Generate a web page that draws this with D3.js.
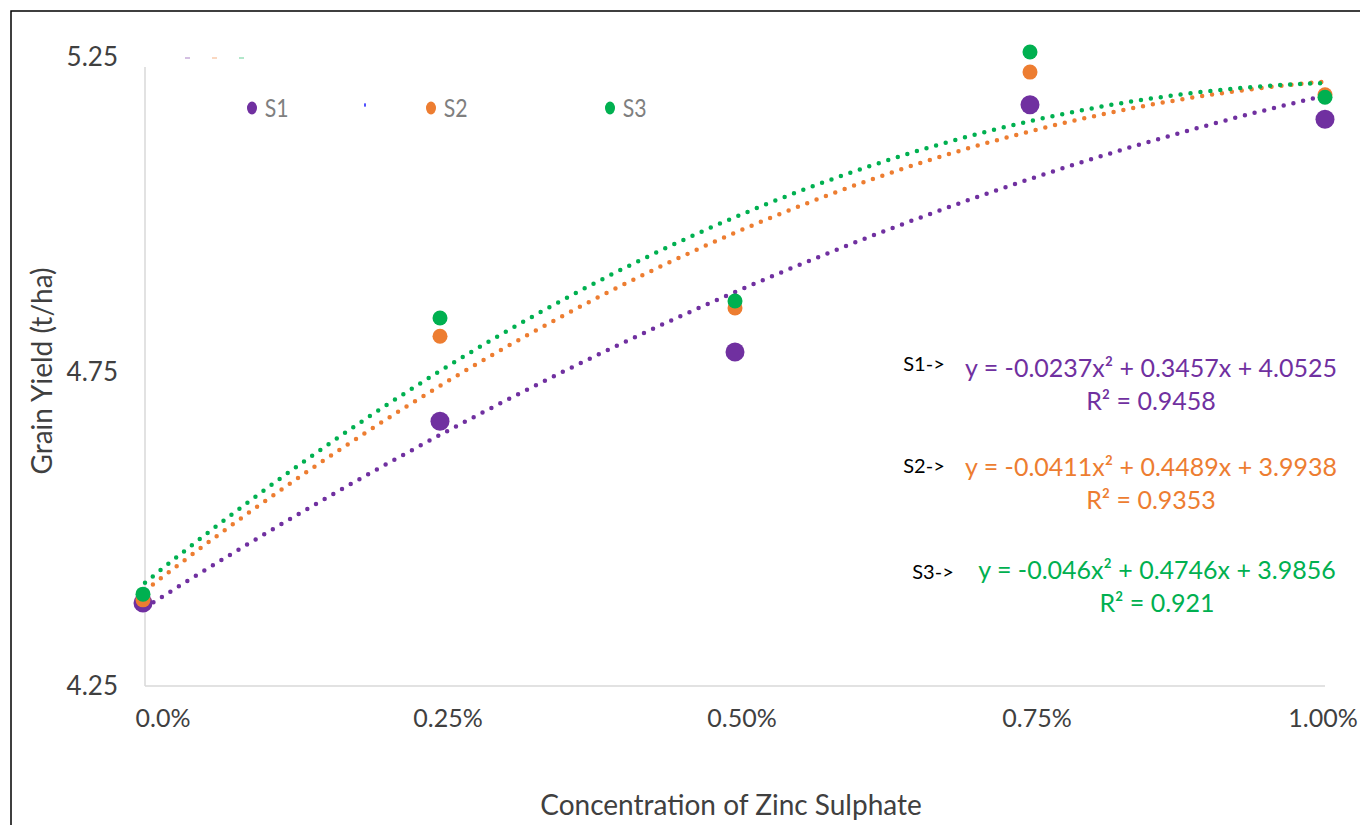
<!DOCTYPE html>
<html>
<head>
<meta charset="utf-8">
<script src="https://cdn.jsdelivr.net/npm/d3@7"></script>
<style>
  body { margin: 0; background: #fff; }
  text { font-family: Lato, "Open Sans", sans-serif; }
</style>
</head>
<body>
<div id="chart-wrapper"></div>
<script>
////////////////////////// Data //////////////////////////
const categories = ["0.0%", "0.25%", "0.50%", "0.75%", "1.00%"]
const seriesNames = ["S1", "S2", "S3"]
const s1Values = [4.382, 4.671, 4.781, 5.174, 5.151]
const s2Values = [4.387, 4.806, 4.851, 5.226, 5.190]
const s3Values = [4.396, 4.835, 4.862, 5.258, 5.186]
// trendline coefficients [a, b, c] for y = a x^2 + b x + c, x = 1..5
const s1Fit = [-0.0237, 0.3457, 4.0525]
const s2Fit = [-0.0411, 0.4489, 3.9938]
const s3Fit = [-0.046, 0.4746, 3.9856]
const equationLabels = ["y = -0.0237x² + 0.3457x + 4.0525", "y = -0.0411x² + 0.4489x + 3.9938", "y = -0.046x² + 0.4746x + 3.9856"]
const r2Labels = ["R² = 0.9458", "R² = 0.9353", "R² = 0.921"]
const yTicks = [4.25, 4.75, 5.25]

////////////////////////// Constants //////////////////////////
const width = 1360
const height = 825
const colors = ["#7030A0", "#ED7D31", "#00B050"]
const axisGrey = "#d9d9d9"
const textGrey = "#404040"

const series = [
  {name: seriesNames[0], values: s1Values, fit: s1Fit, color: colors[0], r: 9.5},
  {name: seriesNames[1], values: s2Values, fit: s2Fit, color: colors[1], r: 7.5},
  {name: seriesNames[2], values: s3Values, fit: s3Fit, color: colors[2], r: 7.5},
]

const svg = d3.select("#chart-wrapper")
  .append("svg")
    .attr("width", width)
    .attr("height", height)

// outer frame
svg.append("rect")
  .attr("x", 11).attr("y", 11)
  .attr("width", width + 20).attr("height", height + 20)
  .attr("fill", "none")
  .attr("stroke", "#000")
  .attr("stroke-width", 1.5)

/// Scales ///
const xScale = d3.scaleLinear().domain([1, 5]).range([145, 1325])
const yScale = d3.scaleLinear().domain([4.25, 5.25]).range([686, 57])

/// Axes ///
const g = svg.append("g")

g.append("line")
  .attr("x1", xScale(1)).attr("x2", xScale(1))
  .attr("y1", yScale(5.25) + 10).attr("y2", yScale(4.25))
  .attr("stroke", axisGrey).attr("stroke-width", 1.5)
g.append("line")
  .attr("x1", xScale(1)).attr("x2", xScale(5))
  .attr("y1", yScale(4.25)).attr("y2", yScale(4.25))
  .attr("stroke", axisGrey).attr("stroke-width", 1.5)

g.selectAll(".y-tick")
  .data(yTicks)
  .join("text")
    .attr("class", "y-tick")
    .attr("x", 118)
    .attr("y", d => yScale(d))
    .attr("dy", "0.35em")
    .attr("text-anchor", "end")
    .attr("font-size", 26)
    .attr("fill", textGrey)
    .text(d => d3.format(".2f")(d))

const tickNudge = [18, 8, 7, 7, -2]
g.selectAll(".x-tick")
  .data(categories)
  .join("text")
    .attr("class", "x-tick")
    .attr("x", (d, i) => xScale(i + 1) + tickNudge[i])
    .attr("y", 718)
    .attr("dy", "0.35em")
    .attr("text-anchor", "middle")
    .attr("font-size", 25)
    .attr("fill", textGrey)
    .text(d => d)

g.append("text")
  .attr("transform", `translate(42, 371) rotate(-90)`)
  .attr("dy", "0.35em")
  .attr("text-anchor", "middle")
  .attr("font-size", 28)
  .attr("fill", textGrey)
  .text("Grain Yield (t/ha)")

g.append("text")
  .attr("x", 731).attr("y", 805)
  .attr("dy", "0.35em")
  .attr("text-anchor", "middle")
  .attr("font-size", 28)
  .attr("fill", textGrey)
  .text("Concentration of Zinc Sulphate")

/// Trendlines ///
const line = d3.line()
  .x(d => xScale(d[0]))
  .y(d => yScale(d[1]))
  .curve(d3.curveMonotoneX)

g.selectAll(".trend")
  .data(series)
  .join("path")
    .attr("class", "trend")
    .attr("fill", "none")
    .attr("stroke", d => d.color)
    .attr("stroke-width", 4.5)
    .attr("stroke-linecap", "round")
    .attr("stroke-dasharray", "0 10")
    .attr("d", d => line(d3.range(1, 5.001, 0.05).map(x => [x, d.fit[0] * x * x + d.fit[1] * x + d.fit[2]])))

/// Points ///
series.forEach(s => {
  g.selectAll(`.pt-${s.name}`)
    .data(s.values)
    .join("circle")
      .attr("class", `pt-${s.name}`)
      .attr("cx", (d, i) => xScale(i + 1) - (i === 0 ? 2 : 0))
      .attr("cy", d => yScale(d))
      .attr("r", s.r)
      .attr("fill", s.color)
})

/// Legend ///
const legendX = [252, 431, 610]
const legend = g.selectAll(".legend")
  .data(series)
  .join("g")
    .attr("class", "legend")
    .attr("transform", (d, i) => `translate(${legendX[i]}, 108)`)
legend.append("ellipse")
  .attr("rx", 5).attr("ry", 6.5)
  .attr("fill", d => d.color)
legend.append("text")
  .attr("x", 15)
  .attr("dy", "0.35em")
  .attr("font-size", 25)
  .attr("fill", "#7f7f7f")
  .attr("transform", "scale(0.85, 1)")
  .text(d => d.name)

// faint trendline legend remnants
g.selectAll(".legend-dash")
  .data(colors)
  .join("line")
    .attr("class", "legend-dash")
    .attr("x1", (d, i) => 185 + i * 27).attr("x2", (d, i) => 190 + i * 27)
    .attr("y1", 58).attr("y2", 58)
    .attr("stroke", d => d).attr("stroke-opacity", 0.3).attr("stroke-width", 2)
g.append("ellipse")
  .attr("cx", 365).attr("cy", 105).attr("rx", 1).attr("ry", 2)
  .attr("fill", "#4040ff")

/// Equations ///
const eqY = [368, 467, 570]
const r2Y = [401, 500, 603]
const eqX = [1151, 1151, 1157]
const prefixX = [924, 924, 933]
const prefixY = [364, 466, 572]
series.forEach((s, i) => {
  g.append("text")
    .attr("x", prefixX[i]).attr("y", prefixY[i])
    .attr("dy", "0.35em")
    .attr("text-anchor", "middle")
    .attr("font-size", 20)
    .attr("fill", "#000")
    .text(`${s.name}->`)
  g.append("text")
    .attr("x", eqX[i]).attr("y", eqY[i])
    .attr("dy", "0.35em")
    .attr("text-anchor", "middle")
    .attr("font-size", 25)
    .attr("fill", s.color)
    .text(equationLabels[i])
  g.append("text")
    .attr("x", eqX[i]).attr("y", r2Y[i])
    .attr("dy", "0.35em")
    .attr("text-anchor", "middle")
    .attr("font-size", 25)
    .attr("fill", s.color)
    .text(r2Labels[i])
})
</script>
</body>
</html>
